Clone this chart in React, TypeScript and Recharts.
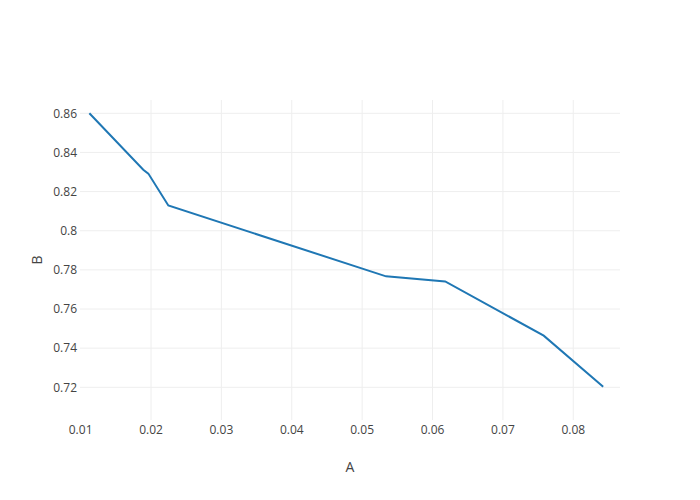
import { LineChart, Line, XAxis, YAxis, CartesianGrid } from 'recharts';

const aValues = [0.01124, 0.0189, 0.01962, 0.02246, 0.0534, 0.0618, 0.0758, 0.08425];
const bValues = [0.86, 0.8312, 0.8292, 0.8129, 0.7767, 0.7741, 0.7464, 0.7203];
const xTicks = [0.01, 0.02, 0.03, 0.04, 0.05, 0.06, 0.07, 0.08];
const yTicks = [0.72, 0.74, 0.76, 0.78, 0.8, 0.82, 0.84, 0.86];

const xDomain = [0.00991, 0.08664];
const yDomain = [0.7033, 0.8668];

const data = aValues.map((a, i) => ({ a, b: bValues[i] }));

const font = '"Open Sans", sans-serif';
const tickStyle = { fontSize: 12, fill: '#444', fontFamily: font };

// grid only at tick values (no frame on the plot edges)
const gridX = ({ offset }: any) =>
  xTicks
    .filter((v) => v > xDomain[0] + 0.001)
    .map((v) => offset.left + ((v - xDomain[0]) / (xDomain[1] - xDomain[0])) * offset.width);
const gridY = ({ offset }: any) =>
  yTicks.map((v) => offset.top + ((yDomain[1] - v) / (yDomain[1] - yDomain[0])) * offset.height);

export default function App() {
  return (
    <div style={{ position: 'absolute', left: 0, top: 0, width: 700, height: 500, background: '#fff' }}>
      <LineChart width={700} height={500} data={data} margin={{ top: 100, right: 80, bottom: 0, left: 0 }}>
        <CartesianGrid
          stroke="#eee"
          strokeWidth={1}
          verticalCoordinatesGenerator={gridX}
          horizontalCoordinatesGenerator={gridY}
        />
        <XAxis
          type="number"
          dataKey="a"
          domain={xDomain}
          allowDataOverflow
          ticks={xTicks}
          height={80}
          axisLine={false}
          tickLine={false}
          tickSize={0}
          tickMargin={5}
          tick={tickStyle}
          label={{
            content: ({ viewBox }: any) => (
              <text
                x={viewBox.x + viewBox.width / 2}
                y={472}
                textAnchor="middle"
                fontSize={14}
                fill="#444"
                fontFamily={font}
              >
                A
              </text>
            ),
          }}
        />
        <YAxis
          type="number"
          dataKey="b"
          domain={yDomain}
          allowDataOverflow
          ticks={yTicks}
          width={80}
          axisLine={false}
          tickLine={false}
          tickSize={0}
          tickMargin={3}
          tick={tickStyle}
          label={{
            content: ({ viewBox }: any) => {
              const cy = viewBox.y + viewBox.height / 2;
              return (
                <text
                  x={42}
                  y={cy}
                  transform={`rotate(-90 42 ${cy})`}
                  textAnchor="middle"
                  fontSize={14}
                  fill="#444"
                  fontFamily={font}
                >
                  B
                </text>
              );
            },
          }}
        />
        <Line
          type="linear"
          dataKey="b"
          stroke="#1f77b4"
          strokeWidth={2}
          dot={false}
          isAnimationActive={false}
        />
      </LineChart>
    </div>
  );
}
